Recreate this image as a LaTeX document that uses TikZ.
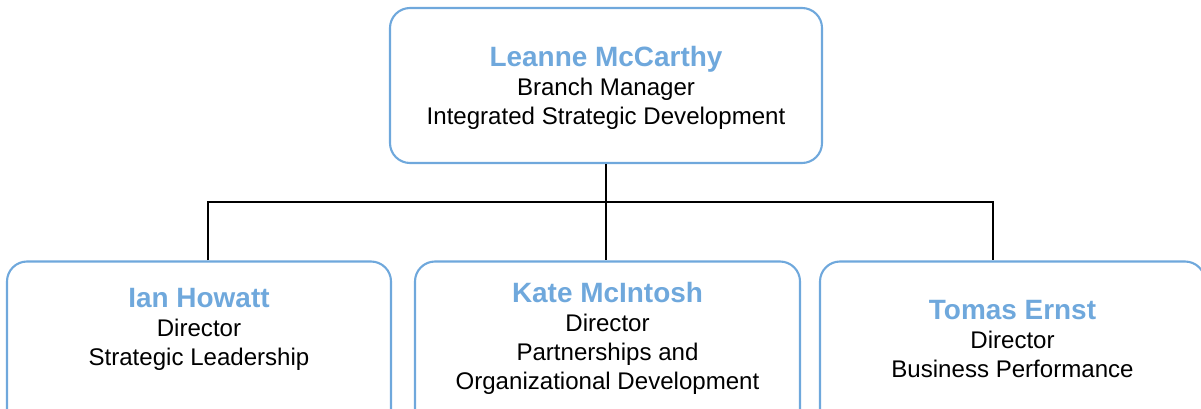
\documentclass[tikz,border=0pt]{standalone}
\usepackage{fontspec}
\setmainfont{Liberation Sans}
\usepackage{xcolor}
\usepackage{tikz}
\usetikzlibrary{positioning,calc}

\definecolor{nameblue}{HTML}{6FA8DC}
\newcommand{\who}[1]{{\fontsize{15.9}{16.5}\selectfont\bfseries\color{nameblue}#1}}

\begin{document}
\begin{tikzpicture}[scale=1.0,
  person/.style={draw=nameblue, line width=1.2pt, rounded corners=0.4cm, minimum width=7.7cm, minimum height=3.4cm, inner sep=0pt},
  info/.style={anchor=north, inner sep=0pt, align=center, font=\fontsize{13.7}{16.5}\selectfont},
  link/.style={line width=1.5pt, black}]

\clip (0,0) rectangle (24.02,8.16);

% Branch manager
\node[person, minimum width=8.64cm, minimum height=3.1cm] (lead) at (12.12, 6.45) {};
\node[info, below=0.78cm of lead.north] (lead-txt) {\who{Leanne McCarthy}\\Branch Manager\\Integrated Strategic Development};

% Directors
\node[person, minimum width=7.68cm] (ian) at (3.98, 1.23) {};
\node[person] (kate) at (12.15, 1.23) {};
\node[person] (tomas) at (20.25, 1.23) {};

\node[info, below=0.54cm of ian.north] (ian-txt) {\who{Ian Howatt}\\Director\\Strategic Leadership};
\node[info, below=0.42cm of kate.north] (kate-txt) {\who{Kate McIntosh}\\Director\\Partnerships and\\Organizational Development};
\node[info, below=0.78cm of tomas.north] (tomas-txt) {\who{Tomas Ernst}\\Director\\Business Performance};

% Reporting lines
\coordinate (bar) at (0, 4.12);
\draw[link] (lead.south) -- (lead.south |- kate.north);
\draw[link] ([xshift=0.18cm]ian.north) |- (bar -| lead.south) -| ([xshift=-0.39cm]tomas.north);

\end{tikzpicture}
\end{document}
